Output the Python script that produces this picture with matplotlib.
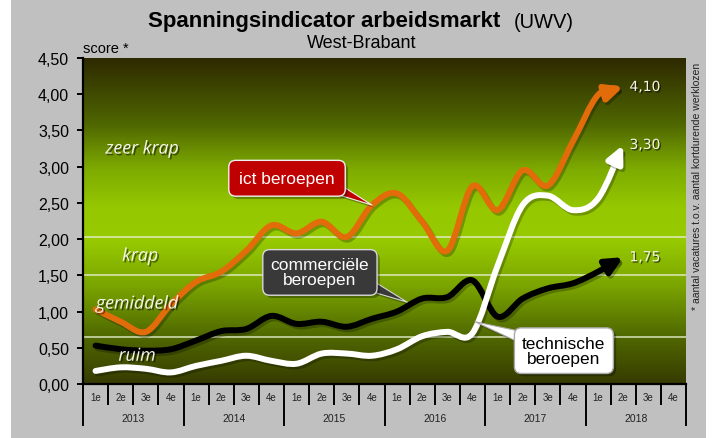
import matplotlib
matplotlib.use("Agg")
import matplotlib.pyplot as plt
import matplotlib.patheffects as pe
import numpy as np
from matplotlib.path import Path
from matplotlib.patches import FancyArrowPatch, Rectangle
from matplotlib.colors import LinearSegmentedColormap
from matplotlib.ticker import FuncFormatter

plt.rcParams['font.family'] = ['Liberation Sans', 'DejaVu Sans']

years = ['2013', '2014', '2015', '2016', '2017', '2018']
quarters = ['1e', '2e', '3e', '4e']

# score per kwartaal, 1e 2013 t/m 2e 2018
ict = [1.03, 0.86, 0.72, 1.10, 1.41, 1.55, 1.84, 2.19, 2.08, 2.24, 2.03, 2.47,
       2.63, 2.24, 1.84, 2.73, 2.40, 2.95, 2.74, 3.35, 3.99, 4.10]
commercieel = [0.53, 0.48, 0.46, 0.48, 0.60, 0.73, 0.76, 0.94, 0.83, 0.86, 0.79, 0.90,
               1.00, 1.18, 1.20, 1.43, 0.93, 1.18, 1.32, 1.39, 1.55, 1.75]
technisch = [0.18, 0.23, 0.21, 0.16, 0.25, 0.32, 0.39, 0.32, 0.28, 0.42, 0.42, 0.39,
             0.48, 0.66, 0.72, 0.70, 1.63, 2.47, 2.60, 2.40, 2.56, 3.30]

# grenzen tussen ruim / gemiddeld / krap / zeer krap
grenzen = [0.65, 1.50, 2.03]

ORANGE = '#e36c0a'


def fmt(v):
    return '{:.2f}'.format(v).replace('.', ',')


def smooth_path(ys):
    """Catmull-Rom curve through the points, as bezier path in data coords"""
    pts = np.column_stack([np.arange(len(ys)), ys]).astype(float)
    ext = np.vstack([pts[0], pts, pts[-1]])
    verts = [pts[0]]
    codes = [Path.MOVETO]
    for i in range(len(pts) - 1):
        p0, p1, p2, p3 = ext[i], ext[i + 1], ext[i + 2], ext[i + 3]
        verts += [p1 + (p2 - p0) / 6, p2 - (p3 - p1) / 6, p2]
        codes += [Path.CURVE4] * 3
    return Path(verts, codes)


fig = plt.figure(figsize=(7.24, 4.39), dpi=100)
fig.patch.set_facecolor('white')
fig.add_artist(Rectangle((11 / 724, 0), 695 / 724, 1, transform=fig.transFigure,
                         facecolor='#c0c0c0', edgecolor='none', zorder=-1))

ax = fig.add_axes([83 / 724, 1 - 385 / 439, 603 / 724, 326 / 439])
ax.set_facecolor('none')
n_q = len(years) * len(quarters)
ax.set_xlim(-0.5, n_q - 0.5)
ax.set_ylim(0, 4.5)

# achtergrond verloop
cmap = LinearSegmentedColormap.from_list('bg', [
    (0.00, '#363b00'), (0.15, '#516a00'), (0.30, '#7aa400'), (0.44, '#97ca00'),
    (0.54, '#96c800'), (0.66, '#7dab00'), (0.80, '#4f6600'), (1.00, '#2e2a00')])
ax.imshow(np.linspace(0, 1, 256).reshape(-1, 1), cmap=cmap, origin='lower',
          extent=(-0.5, n_q - 0.5, 0, 4.5), aspect='auto', zorder=0)

for g in grenzen:
    ax.axhline(g, color='#e8f0d0', lw=1.1, alpha=0.9, zorder=1)

shadow = [pe.SimpleLineShadow(offset=(1.5, -1.8), shadow_color='k', alpha=0.25), pe.Normal()]

for data, col, z in [(ict, ORANGE, 3), (commercieel, 'black', 4), (technisch, 'white', 5)]:
    arr = FancyArrowPatch(path=smooth_path(data),
                          arrowstyle='-|>,head_length=0.5,head_width=0.24',
                          mutation_scale=20, facecolor=col, edgecolor=col, lw=4.3,
                          capstyle='round', joinstyle='round', zorder=z)
    arr.set_path_effects(shadow)
    ax.add_patch(arr)
    ax.text(len(data) - 1 + 0.25, data[-1], fmt(data[-1]), ha='left', va='center',
            fontsize=10, color='#f4f4e4', family=['DejaVu Sans'], zorder=7,
            path_effects=[pe.withSimplePatchShadow(offset=(1, -1), shadow_rgbFace='k', alpha=0.6)])

# zone teksten
zone_fx = [pe.withSimplePatchShadow(offset=(1.2, -1.2), shadow_rgbFace='k', alpha=0.5)]
for txt, x, y in [('zeer krap', 1.85, 3.25), ('krap', 1.77, 1.77),
                  ('gemiddeld', 1.65, 1.11), ('ruim', 1.65, 0.39)]:
    ax.text(x, y, txt, ha='center', va='center', fontsize=12.8, style='italic',
            color='#f6f6ea', family=['Open Sans', 'DejaVu Sans'], zorder=8,
            path_effects=zone_fx)

# callouts
box_fx = [pe.withSimplePatchShadow(offset=(2, -2), shadow_rgbFace='k', alpha=0.3)]
callouts = [
    ('ict beroepen', (11, ict[11]), (7.62, 2.84), '#c00000', '#f0f0f0', 'white', (0.85, 0.3), 0.6),
    ('commerciële\nberoepen', (12.4, 1.13), (8.93, 1.54), '#393939', '#d8d8d8', 'white', (0.85, 0.3), 0.45),
    ('technische\nberoepen', (15.1, 0.86), (18.64, 0.46), 'white', '#a8a8a8', 'black', (0.2, 0.75), 0.45),
]
for txt, xy, xyt, fc, ec, tc, rel, pad in callouts:
    ann = ax.annotate(txt, xy=xy, xytext=xyt, ha='center', va='center', fontsize=12.5,
                      color=tc, linespacing=1.0, zorder=9,
                      bbox=dict(boxstyle='round,pad=%s,rounding_size=0.4' % pad, fc=fc, ec=ec, lw=1),
                      arrowprops=dict(arrowstyle='wedge,tail_width=0.9', fc=fc, ec=ec, lw=0.8,
                                      patchA=None, shrinkA=0, shrinkB=0, relpos=rel))
    ann.get_bbox_patch().set_path_effects(box_fx)
    ann.arrow_patch.set_path_effects(box_fx)

# assen
for s in ['top', 'right']:
    ax.spines[s].set_visible(False)
for s in ['left', 'bottom']:
    ax.spines[s].set_linewidth(1.6)
    ax.spines[s].set_zorder(10)
ax.set_yticks(np.arange(0, 4.51, 0.5))
ax.yaxis.set_major_formatter(FuncFormatter(lambda v, p: fmt(v)))
ax.tick_params(axis='y', length=4, width=1.4, labelsize=11.5, pad=6)
ax.set_xticks([])

trans = ax.get_xaxis_transform()
for k in range(n_q + 1):
    low = -0.127 if k % 4 == 0 else -0.062
    ax.plot([k - 0.5, k - 0.5], [0, low], color='black', lw=1.4, transform=trans, clip_on=False)
for k in range(n_q):
    ax.text(k, -0.04, quarters[k % 4], ha='center', va='center', fontsize=7,
            color='#222222', transform=trans)
for j, yr in enumerate(years):
    ax.text(4 * j + 1.5, -0.104, yr, ha='center', va='center', fontsize=7.5,
            color='#222222', transform=trans)

ax.text(0, 1.008, 'score *', transform=ax.transAxes, ha='left', va='bottom', fontsize=10.5)

fig.text(500 / 724, 1 - 22 / 439, 'Spanningsindicator arbeidsmarkt', fontsize=16,
         fontweight='bold', ha='right', va='center')
fig.text(514 / 724, 1 - 22 / 439, '(UWV)', fontsize=14.5, ha='left', va='center')
fig.text(362 / 724, 1 - 43 / 439, 'West-Brabant', fontsize=13, ha='center', va='center')
fig.text(697 / 724, 1 - 186 / 439, '* aantal vacatures t.o.v. aantal kortdurende werklozen',
         rotation=90, ha='center', va='center', fontsize=7.5, color='#222222')

fig.savefig('out.png', dpi=100)
